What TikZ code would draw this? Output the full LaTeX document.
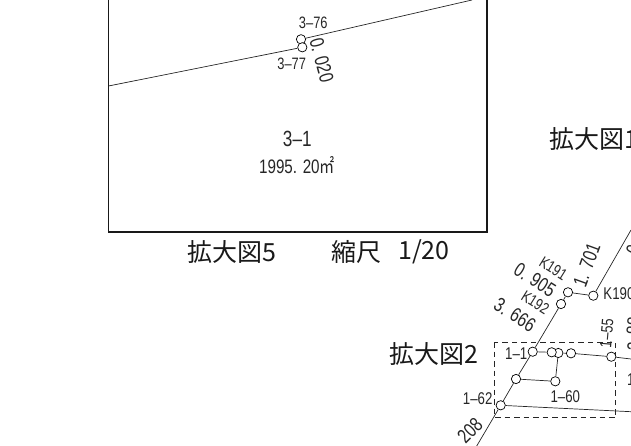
\documentclass[tikz,border=0pt]{standalone}
\usepackage{fontspec}
\setmainfont{Liberation Sans}
\newfontfamily\cjk{Noto Sans CJK JP}
\begin{document}
\begin{tikzpicture}[x=1pt,y=-1pt,
  lbl/.style={inner sep=0pt,font=\fontsize{#1}{#1}\selectfont,text=black!85,xscale=0.78,transform shape},
  lbl/.default=17,
  jp/.style={inner sep=0pt,font=\cjk\fontsize{25}{25}\selectfont,text=black!90},
  pt/.style={circle,draw=black,fill=white,line width=0.7pt,minimum size=9.3pt,inner sep=0pt},
  ln/.style={line width=0.7pt,black!85},
  heavy/.style={line width=1.7pt,black!90,line cap=rect}]
\useasboundingbox (0,0) rectangle (631,446);
\clip (0,0) rectangle (631,446);
\coordinate (tl) at (108.5,-3);
\coordinate (bl) at (108.5,232);
\coordinate (br) at (487,232);
\coordinate (tr) at (487,-3);
\coordinate (pl) at (108.5,86);
\coordinate (pr) at (472,0);
\coordinate (ne) at (631,230);
\coordinate (sw) at (476.7,446);
\coordinate (e1) at (631,411.7);
\coordinate (e2) at (631,359);
\draw[heavy] (tl) -- (bl) -- (br) -- (tr);
\draw[dash pattern=on 5.5pt off 4pt,line width=0.7pt,black!85] (494.3,342) rectangle (615.7,417.3);
\node[pt] (p76) at (301,39.3) {};
\node[pt] (p77) at (302.3,47.3) {};
\draw[ln] (pl) -- (p77);
\draw[ln] (p76) -- (pr);
\node[pt] (k190) at (593.3,295.7) {};
\node[pt] (k191) at (568,292.3) {};
\node[pt] (k192) at (561,304) {};
\node[pt] (a) at (532.7,351.7) {};
\node[pt] (c) at (558.3,353) {};
\node[pt] (b) at (551.7,352.3) {};
\node[pt] (d) at (571,353.3) {};
\node[pt] (f) at (611.3,356.7) {};
\node[pt] (g) at (516,379) {};
\node[pt] (h) at (555.3,381.3) {};
\node[pt] (i) at (500.7,405.3) {};
\draw[ln] (k190) -- (ne);
\draw[ln] (k190) -- (k191);
\draw[ln] (k191) -- (k192);
\draw[ln] (k192) -- (a);
\draw[ln] (a) -- (g);
\draw[ln] (g) -- (i);
\draw[ln] (i) -- (sw);
\draw[ln] (a) -- (b);
\draw[ln] (c) -- (d);
\draw[ln] (d) -- (f);
\draw[ln] (f) -- (e2);
\draw[ln] (g) -- (h);
\draw[ln] (h) -- (c);
\draw[ln] (i) -- (e1);
\node[lbl=16.5] (t76) at (313.3,23.3) {3–76};
\node[lbl=16.5] (t77) at (291.7,64) {3–77};
\node[rotate=-75,lbl=20] (t020) at (321.7,60) {0. 020};
\node[lbl=22] (t31) at (297.3,139.3) {3–1};
\node[lbl=19.5] (tarea) at (297,165) {1995. 20{\cjk ㎡}};
\node[jp,anchor=west] (z5) at (187.5,251.7) {拡大図5};
\node[jp,anchor=west] (sc) at (331,251.7) {縮尺};
\node[jp,anchor=west] (sn) at (398,251.7) {1/20};
\node[jp,anchor=west] (z1) at (549,139) {拡大図1};
\node[jp,anchor=west] (z2) at (389,354) {拡大図2};
\node[rotate=-32,lbl=16] (tk191) at (553.3,268.3) {K191};
\node[rotate=-32,lbl=20] (t905) at (535,280) {0. 905};
\node[rotate=-32,lbl=16] (tk192) at (535.3,302.3) {K192};
\node[rotate=-32,lbl=20] (t3666) at (515,315) {3. 666};
\node[rotate=70,lbl=20] (t1701) at (586.7,265) {1. 701};
\node[lbl=17,anchor=west] (tk190) at (603.3,294) {K190};
\node[lbl=17] (t11) at (516.3,353.3) {1–1};
\node[lbl=17] (t160) at (565.3,396.7) {1–60};
\node[lbl=17] (t162) at (477.7,398.7) {1–62};
\node[rotate=45,lbl=20] (t208) at (470,430.7) {208};
\node[rotate=85,lbl=16.5] (t155) at (606.7,333.3) {1–55};
\node[rotate=70,lbl=20] (f1) at (633.5,250) {0};
\node[rotate=85,lbl=20] (f2) at (634,326) {88};
\node[rotate=85,lbl=20] (f3) at (634.5,347) {3};
\node[lbl=17,anchor=west] (f4) at (627,380) {1};
\end{tikzpicture}
\end{document}
